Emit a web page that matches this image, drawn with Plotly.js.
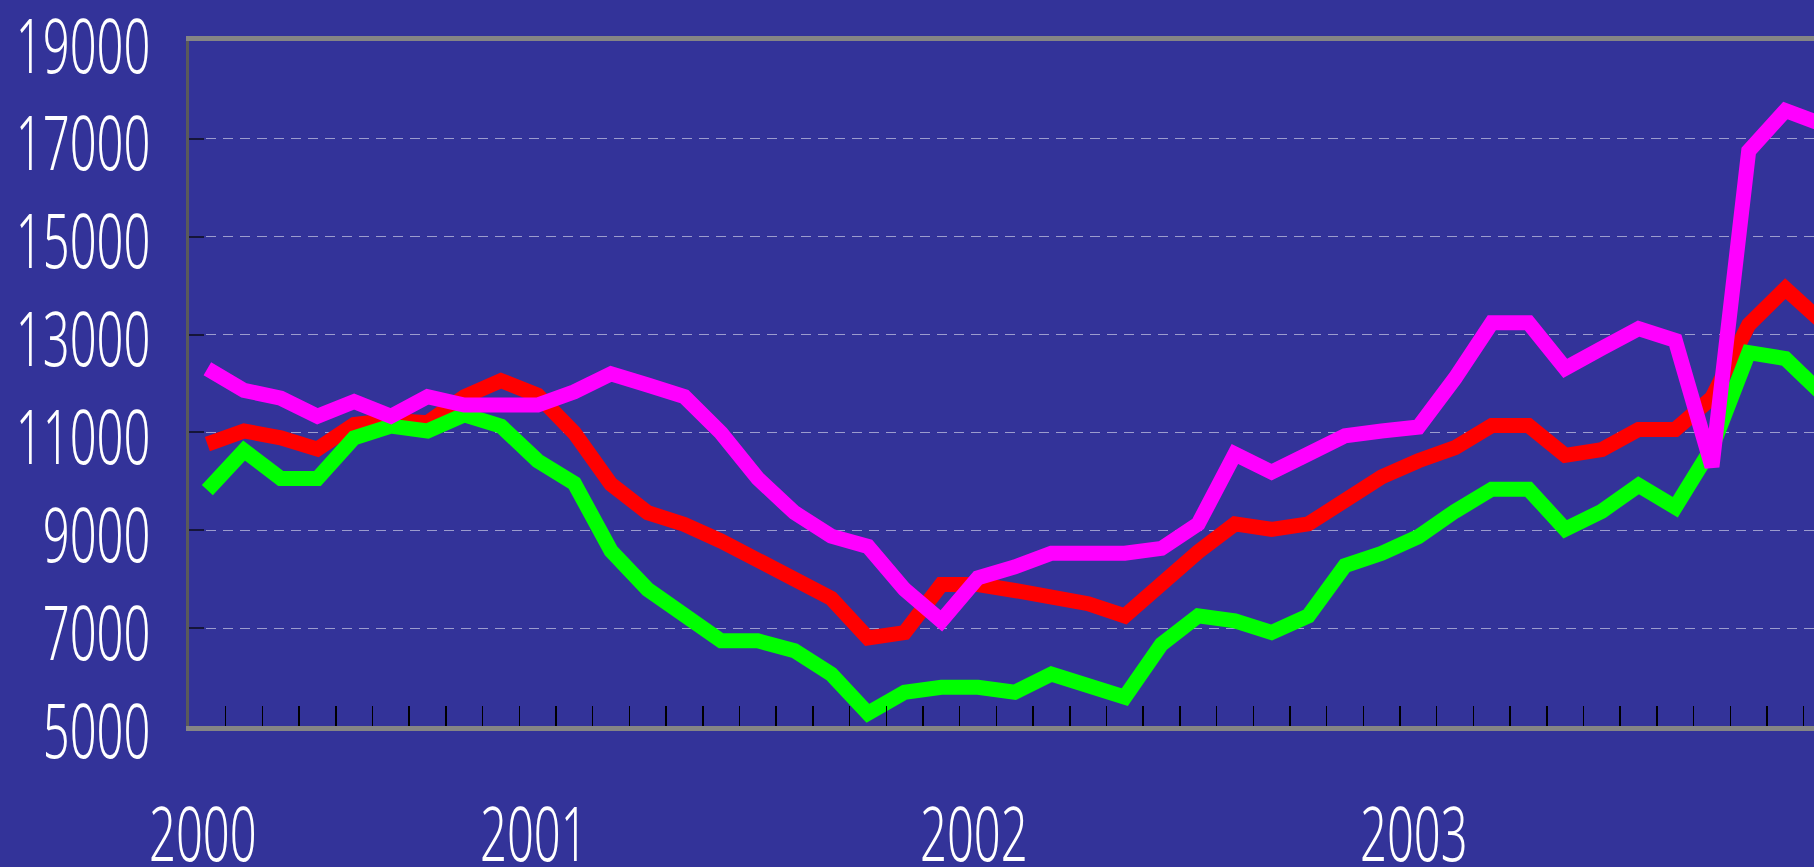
<!DOCTYPE html>
<html>
<head>
<meta charset="utf-8">
<script src="https://cdn.plot.ly/plotly-3.0.1.min.js"></script>
<style>
  html, body { margin: 0; padding: 0; background: #333399; }
  #chart { width: 1814px; height: 867px; }
  /* condensed look of the original lettering */
  #chart .ytick text { transform-box: fill-box; transform-origin: right center; scale: 0.62 1; translate: 0 5px; }
  #chart .annotation-text { transform-box: fill-box; transform-origin: center center; scale: 0.62 1; }
</style>
</head>
<body>
<div id="chart"></div>
<script>
// Monthly categories (Apr 2000 - Dec 2003)
const months = [
  '2000-04','2000-05','2000-06','2000-07','2000-08','2000-09','2000-10','2000-11','2000-12',
  '2001-01','2001-02','2001-03','2001-04','2001-05','2001-06','2001-07','2001-08','2001-09','2001-10','2001-11','2001-12',
  '2002-01','2002-02','2002-03','2002-04','2002-05','2002-06','2002-07','2002-08','2002-09','2002-10','2002-11','2002-12',
  '2003-01','2003-02','2003-03','2003-04','2003-05','2003-06','2003-07','2003-08','2003-09','2003-10','2003-11','2003-12'
];

const redSeries = [
  10760, 11030, 10890, 10660, 11160, 11250, 11200, 11730, 12060,
  11760, 10990, 9940, 9360, 9120, 8780, 8390, 7960, 7610, 6800, 6910, 7890,
  7890, 7770, 7640, 7500, 7250, 7930, 8560, 9130, 9020, 9130, 9590, 10090,
  10420, 10690, 11140, 11140, 10530, 10650, 11060, 11060, 11710, 13200, 13940, 13260
];

const greenSeries = [
  9820, 10630, 10060, 10060, 10890, 11130, 11030, 11360, 11130,
  10420, 9960, 8580, 7790, 7220, 6740, 6740, 6540, 6060, 5260, 5690, 5790,
  5790, 5690, 6060, 5830, 5590, 6670, 7250, 7150, 6910, 7250, 8280, 8530,
  8870, 9390, 9840, 9840, 9020, 9390, 9920, 9470, 10690, 12630, 12510, 11790
];

const magentaSeries = [
  12300, 11860, 11700, 11330, 11630, 11330, 11730, 11560, 11560,
  11560, 11830, 12200, 11970, 11730, 10990, 10060, 9360, 8880, 8670, 7790, 7150,
  8030, 8250, 8530, 8530, 8530, 8630, 9130, 10560, 10190, 10560, 10930, 11030,
  11110, 12110, 13240, 13240, 12310, 12720, 13120, 12880, 10300, 16750, 17580, 17300
];

const yearLabels = ['2000', '2001', '2002', '2003'];
const yearAt = ['2000-04', '2001-01', '2002-01', '2003-01'];

const FONT = '"Noto Sans", "DejaVu Sans", sans-serif';
const FSIZE = 76;

function lineTrace(y, color) {
  return {
    type: 'scatter', mode: 'lines', x: months, y: y,
    line: { color: color, width: 15 },
    hoverinfo: 'skip', cliponaxis: true
  };
}

const data = [
  lineTrace(redSeries, '#ff0000'),
  lineTrace(greenSeries, '#00ff00'),
  lineTrace(magentaSeries, '#ff00ff')
];

const annotations = yearLabels.map((t, i) => ({
  text: t, x: yearAt[i], xref: 'x', y: 0, yref: 'paper',
  xanchor: 'center', yanchor: 'middle', yshift: -105, xshift: -4,
  showarrow: false, font: { family: FONT, size: FSIZE, color: '#ffffff', weight: 300 }
}));

const layout = {
  width: 1814, height: 867,
  paper_bgcolor: '#333399', plot_bgcolor: '#333399',
  margin: { l: 189, r: 0, t: 41, b: 141, pad: 0 },
  showlegend: false,
  xaxis: {
    type: 'category', categoryorder: 'array', categoryarray: months,
    range: [-0.5, 43.78],
    tickson: 'boundaries', ticks: 'inside', ticklen: 20, tickwidth: 1.5, tickcolor: '#000000',
    showticklabels: false, showgrid: false, zeroline: false,
    showline: true, linecolor: '#858585', linewidth: 5, mirror: true
  },
  yaxis: {
    range: [5000, 19000], tick0: 5000, dtick: 2000, tickformat: 'd',
    ticks: 'inside', ticklen: 15, tickwidth: 2, tickcolor: '#15153a',
    showgrid: true, gridcolor: 'rgba(175,175,215,0.85)', gridwidth: 1.2, griddash: '10px,7px',
    zeroline: false, showline: true, linecolor: '#5a5a5a', linewidth: 3,
    tickfont: { family: FONT, size: FSIZE, color: '#ffffff', weight: 300 },
    ticklabelstandoff: 33, ticklabeloverflow: 'allow'
  },
  annotations: annotations
};

Plotly.newPlot('chart', data, layout, { displayModeBar: false, staticPlot: true });
</script>
</body>
</html>
